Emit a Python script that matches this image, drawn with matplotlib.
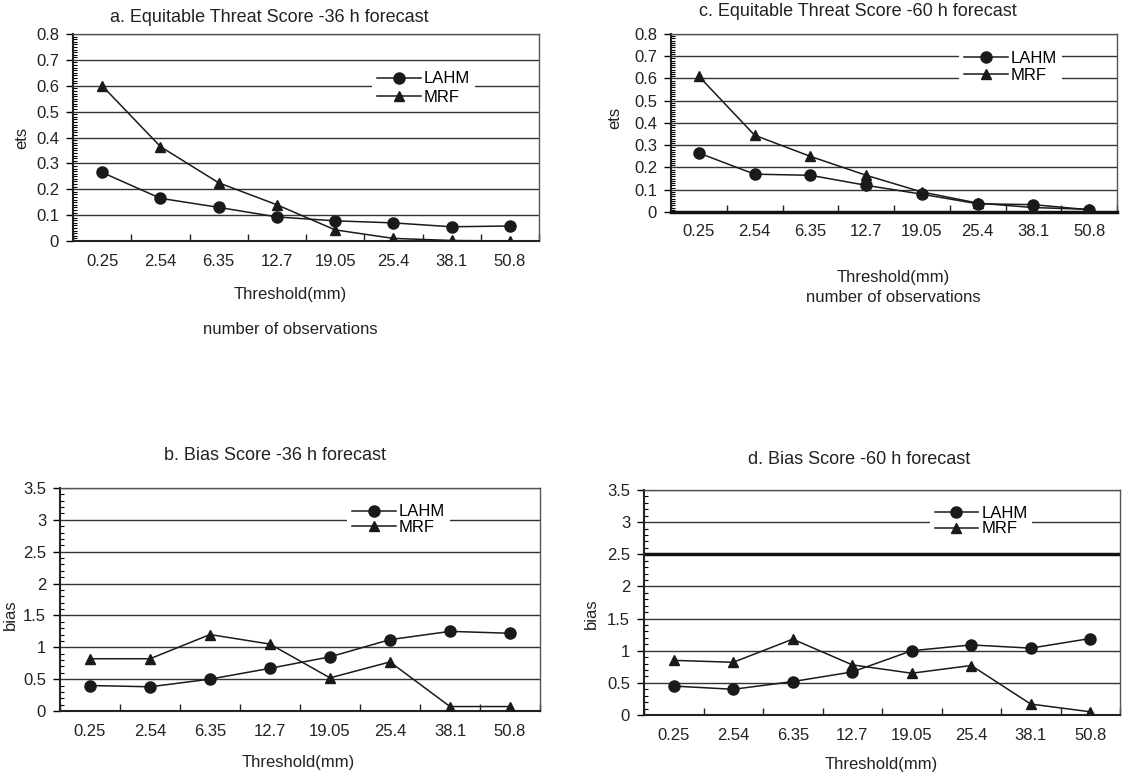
import matplotlib
matplotlib.use("Agg")
import matplotlib.pyplot as plt
from matplotlib.ticker import MultipleLocator, FixedLocator, FormatStrFormatter

plt.rcParams['font.family'] = ['Liberation Sans', 'DejaVu Sans']

thresholds = ['0.25', '2.54', '6.35', '12.7', '19.05', '25.4', '38.1', '50.8']

# a. ETS 36 h
ets36_lahm = [0.265, 0.165, 0.13, 0.093, 0.078, 0.07, 0.055, 0.058]
ets36_mrf = [0.60, 0.365, 0.225, 0.14, 0.043, 0.01, 0.002, 0.0]
# c. ETS 60 h
ets60_lahm = [0.265, 0.17, 0.165, 0.12, 0.08, 0.037, 0.033, 0.01]
ets60_mrf = [0.61, 0.345, 0.25, 0.165, 0.09, 0.04, 0.02, 0.012]
# b. bias 36 h
bias36_lahm = [0.40, 0.38, 0.50, 0.67, 0.85, 1.12, 1.25, 1.22]
bias36_mrf = [0.82, 0.82, 1.20, 1.05, 0.52, 0.77, 0.07, 0.07]
# d. bias 60 h
bias60_lahm = [0.45, 0.40, 0.52, 0.67, 1.00, 1.09, 1.04, 1.19]
bias60_mrf = [0.85, 0.82, 1.18, 0.78, 0.65, 0.77, 0.17, 0.05]

W, H = 1122, 776
fig = plt.figure(figsize=(W / 100, H / 100), dpi=100)


def rect(l, r, t, b):
    return [l / W, 1 - b / H, (r - l) / W, (b - t) / H]


def px(x, y):
    return x / W, 1 - y / H


def panel(box, lahm, mrf, ymax, step, minor, ylab, ylab_pos, leg_pos, legsp):
    ax = fig.add_axes(rect(*box))
    x = range(len(thresholds))
    ax.plot(x, lahm, '-', color='#1a1a1a', lw=1.1, marker='o', ms=8, label='LAHM', zorder=3)
    ax.plot(x, mrf, '-', color='#1a1a1a', lw=1.1, marker='^', ms=7, label='MRF', zorder=3)
    ax.set_xlim(-0.5, len(thresholds) - 0.5)
    ax.set_ylim(0, ymax)
    ax.set_xticks(list(x))
    ax.set_xticklabels(thresholds, fontsize=12, color='#222')
    ax.xaxis.set_minor_locator(FixedLocator([i - 0.5 for i in range(len(thresholds) + 1)]))
    ax.tick_params(axis='x', which='major', length=0, pad=9)
    ax.tick_params(axis='x', which='minor', direction='in', length=5, width=1, color='#222')
    ax.yaxis.set_major_locator(MultipleLocator(step))
    ax.yaxis.set_major_formatter(FormatStrFormatter('%g'))
    ax.yaxis.set_minor_locator(MultipleLocator(minor))
    ax.tick_params(axis='y', which='major', direction='out', length=5, width=1,
                   labelsize=12, labelcolor='#222', pad=5)
    ax.tick_params(axis='y', which='minor', direction='in', length=3, width=0.8)
    ax.yaxis.grid(True, color='#333', lw=1.0)
    ax.set_axisbelow(True)
    for s in ['left', 'bottom']:
        ax.spines[s].set_color('#222')
        ax.spines[s].set_linewidth(1.5)
    for s in ['top', 'right']:
        ax.spines[s].set_color('#555')
        ax.spines[s].set_linewidth(1.0)
    ax.set_ylabel(ylab, fontsize=12, color='#222')
    ax.yaxis.set_label_coords(*ylab_pos)
    ax.legend(loc='center', bbox_to_anchor=leg_pos, fontsize=12, frameon=True,
              facecolor='white', edgecolor='none', framealpha=1, fancybox=False,
              handlelength=2.6, handletextpad=0.2, labelspacing=legsp,
              borderpad=0.3, borderaxespad=0)
    return ax


ax_a = panel((73, 539, 34, 241), ets36_lahm, ets36_mrf, 0.8, 0.1, 0.01,
             'ets', (-0.093, 0.5), (0.753, 0.739), 0.2)
ax_c = panel((671, 1117, 34, 212), ets60_lahm, ets60_mrf, 0.8, 0.1, 0.01,
             'ets', (-0.11, 0.53), (0.762, 0.815), 0.15)
ax_c.spines['bottom'].set_linewidth(2.5)
ax_c.spines['bottom'].set_color('#111')
ax_b = panel((60, 540, 488, 711), bias36_lahm, bias36_mrf, 3.5, 0.5, 0.1,
             'bias', (-0.088, 0.43), (0.706, 0.857), 0.05)
ax_d = panel((644, 1120, 490, 715), bias60_lahm, bias60_mrf, 3.5, 0.5, 0.1,
             'bias', (-0.095, 0.45), (0.708, 0.862), 0.05)
ax_d.axhline(2.5, color='#111', lw=2.5, zorder=1)

# titles and axis labels
fig.text(*px(269, 17), 'a. Equitable Threat Score -36 h forecast', fontsize=13,
         ha='center', va='center', color='#222')
fig.text(*px(858, 12), 'c. Equitable Threat Score -60 h forecast', fontsize=13,
         ha='center', va='center', color='#222')
fig.text(*px(275, 456), 'b. Bias Score -36 h forecast', fontsize=13,
         ha='center', va='center', color='#222')
fig.text(*px(859, 460), 'd. Bias Score -60 h forecast', fontsize=13,
         ha='center', va='center', color='#222')

fig.text(*px(290, 295), 'Threshold(mm)', fontsize=12, ha='center', va='center', color='#222')
fig.text(*px(290, 329), 'number of observations', fontsize=12, ha='center', va='center', color='#222')
fig.text(*px(893, 277), 'Threshold(mm)', fontsize=12, ha='center', va='center', color='#222')
fig.text(*px(893, 298), 'number of observations', fontsize=12, ha='center', va='center', color='#222')
fig.text(*px(298, 762), 'Threshold(mm)', fontsize=12, ha='center', va='center', color='#222')
fig.text(*px(881, 764), 'Threshold(mm)', fontsize=12, ha='center', va='center', color='#222')

fig.savefig('out.png', dpi=100, facecolor='white')
